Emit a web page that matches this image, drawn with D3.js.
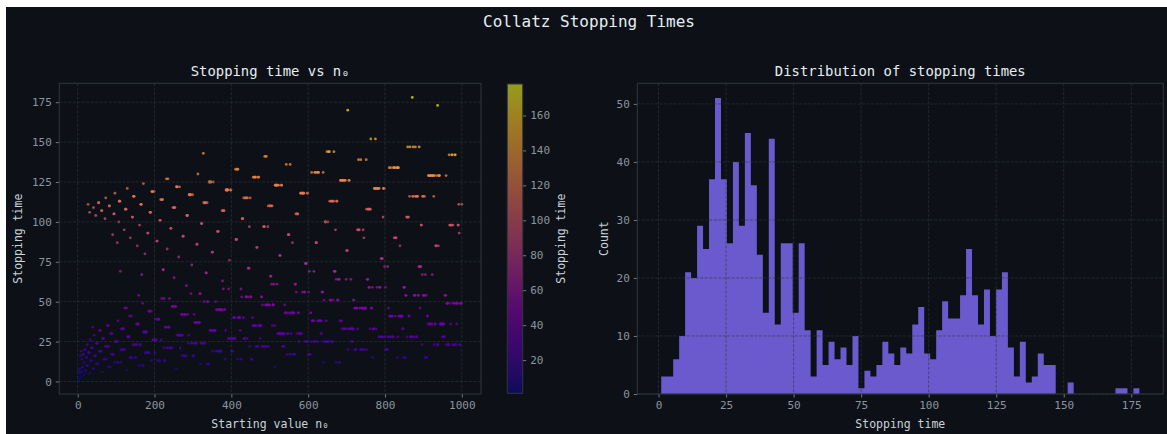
<!DOCTYPE html>
<html>
<head>
<meta charset="utf-8">
<script src="https://cdn.jsdelivr.net/npm/d3@7"></script>
<style>
  html, body { margin: 0; padding: 0; background: #ffffff; }
  svg { display: block; }
  text { font-family: "DejaVu Sans Mono", monospace; }
</style>
</head>
<body>
<svg id="chart" width="1167" height="434"></svg>
<script>
// ---- data -------------------------------------------------------------
// Starting values n0 = 2 … 1000 and their total Collatz stopping times
// (number of 3n+1 / n/2 steps needed to reach 1).
const startValues = d3.range(2, 1001);
function collatzSteps(n) {
  let steps = 0;
  while (n !== 1) { n = (n % 2 === 0) ? n / 2 : 3 * n + 1; steps++; }
  return steps;
}
const stoppingTimes = startValues.map(collatzSteps);

const scatterXTicks = [0, 200, 400, 600, 800, 1000];
const scatterYTicks = [0, 25, 50, 75, 100, 125, 150, 175];
const colorbarTicks = [20, 40, 60, 80, 100, 120, 140, 160];
const histXTicks = [0, 25, 50, 75, 100, 125, 150, 175];
const histYTicks = [0, 10, 20, 30, 40, 50];
const histBinCount = 80;

// ---- styling ----------------------------------------------------------
const BG = "#0d1117";
const SPINE = "#30363d";
const TICK_TEXT = "#8b949e";
const LABEL_TEXT = "#c9d1d9";
const TITLE_TEXT = "#e6edf3";
const BAR = "#6a5acd";

const svg = d3.select("#chart");
svg.append("rect").attr("x", 6).attr("y", 7).attr("width", 1161).attr("height", 427).attr("fill", BG);

svg.append("text").attr("x", 589).attr("y", 27).attr("text-anchor", "middle")
  .attr("fill", TITLE_TEXT).attr("font-size", 16).text("Collatz Stopping Times");

const tMin = d3.min(stoppingTimes), tMax = d3.max(stoppingTimes);
const pad = (a, b) => [a - (b - a) * 0.05, b + (b - a) * 0.05];

function drawGrid(g, x, y, xt, yt, box) {
  const grid = g.append("g").attr("stroke", SPINE).attr("stroke-opacity", 0.75)
    .attr("stroke-width", 0.8).attr("stroke-dasharray", "3,1.5");
  xt.forEach(v => grid.append("line").attr("x1", x(v)).attr("x2", x(v)).attr("y1", box.top).attr("y2", box.bottom));
  yt.forEach(v => grid.append("line").attr("x1", box.left).attr("x2", box.right).attr("y1", y(v)).attr("y2", y(v)));
}

function drawAxes(g, x, y, xt, yt, box) {
  const xa = g.append("g").attr("transform", `translate(0,${box.bottom})`)
    .call(d3.axisBottom(x).tickValues(xt).tickSize(3.5).tickPadding(4).tickFormat(d3.format("d")));
  const ya = g.append("g").attr("transform", `translate(${box.left},0)`)
    .call(d3.axisLeft(y).tickValues(yt).tickSize(3.5).tickPadding(4).tickFormat(d3.format("d")));
  [xa, ya].forEach(a => {
    a.select(".domain").remove();
    a.selectAll(".tick line").attr("stroke", TICK_TEXT).attr("stroke-width", 0.8);
    a.selectAll(".tick text").attr("fill", TICK_TEXT).attr("font-size", 11)
      .attr("font-family", "DejaVu Sans Mono");
  });
  g.append("rect").attr("x", box.left).attr("y", box.top)
    .attr("width", box.right - box.left).attr("height", box.bottom - box.top)
    .attr("fill", "none").attr("stroke", SPINE).attr("stroke-width", 1);
}

// ---- left panel: scatter of stopping time vs n0 -------------------------
const L = { left: 59.3, right: 481, top: 83.3, bottom: 394 };
const xS = d3.scaleLinear().domain(pad(d3.min(startValues), d3.max(startValues))).range([L.left, L.right]);
const yS = d3.scaleLinear().domain(pad(tMin, tMax)).range([L.bottom, L.top]);
const color = d3.scaleSequential(d3.interpolatePlasma).domain([tMin, tMax]);

const gL = svg.append("g");
gL.append("g").selectAll("circle")
  .data(startValues.map((n, i) => ({ n, t: stoppingTimes[i] })))
  .join("circle")
  .attr("cx", d => xS(d.n)).attr("cy", d => yS(d.t)).attr("r", 1.4)
  .attr("fill", d => color(d.t)).attr("fill-opacity", 0.7);
drawGrid(gL, xS, yS, scatterXTicks, scatterYTicks, L);
drawAxes(gL, xS, yS, scatterXTicks, scatterYTicks, L);

gL.append("text").attr("x", (L.left + L.right) / 2).attr("y", 76).attr("text-anchor", "middle")
  .attr("fill", TITLE_TEXT).attr("font-size", 13.9).text("Stopping time vs n₀");
gL.append("text").attr("x", (L.left + L.right) / 2).attr("y", 428).attr("text-anchor", "middle")
  .attr("fill", LABEL_TEXT).attr("font-size", 11.5).text("Starting value n₀");
gL.append("text").attr("transform", `translate(22,${(L.top + L.bottom) / 2}) rotate(-90)`)
  .attr("text-anchor", "middle").attr("fill", LABEL_TEXT).attr("font-size", 11.5).text("Stopping time");

// ---- colorbar ---------------------------------------------------------
const CB = { left: 507.3, right: 522.7, top: 84, bottom: 393.3 };
const yC = d3.scaleLinear().domain([tMin, tMax]).range([CB.bottom, CB.top]);
const defs = svg.append("defs");
const grad = defs.append("linearGradient").attr("id", "plasmaGrad")
  .attr("x1", 0).attr("y1", 1).attr("x2", 0).attr("y2", 0);
d3.range(0, 1.0001, 0.05).forEach(f => grad.append("stop")
  .attr("offset", f).attr("stop-color", d3.interpolatePlasma(f)));
const gC = svg.append("g");
gC.append("rect").attr("x", CB.left).attr("y", CB.top)
  .attr("width", CB.right - CB.left).attr("height", CB.bottom - CB.top)
  .attr("fill", "url(#plasmaGrad)").attr("fill-opacity", 0.6);
const ca = gC.append("g").attr("transform", `translate(${CB.right},0)`)
  .call(d3.axisRight(yC).tickValues(colorbarTicks).tickSize(3.5).tickPadding(4).tickFormat(d3.format("d")));
ca.select(".domain").remove();
ca.selectAll(".tick line").attr("stroke", TICK_TEXT).attr("stroke-width", 0.8);
ca.selectAll(".tick text").attr("fill", TICK_TEXT).attr("font-size", 11).attr("font-family", "DejaVu Sans Mono");
gC.append("rect").attr("x", CB.left).attr("y", CB.top)
  .attr("width", CB.right - CB.left).attr("height", CB.bottom - CB.top)
  .attr("fill", "none").attr("stroke", SPINE).attr("stroke-width", 1);
gC.append("text").attr("transform", `translate(565,${(CB.top + CB.bottom) / 2}) rotate(-90)`)
  .attr("text-anchor", "middle").attr("fill", LABEL_TEXT).attr("font-size", 11.5).text("Stopping time");

// ---- right panel: histogram of stopping times ---------------------------
const R = { left: 637.3, right: 1163.3, top: 83.3, bottom: 394 };
const xH = d3.scaleLinear().domain(pad(tMin, tMax)).range([R.left, R.right]);
const binW = (tMax - tMin) / histBinCount;
const bins = d3.bin().domain([tMin, tMax])
  .thresholds(d3.range(1, histBinCount).map(k => tMin + k * binW))(stoppingTimes);
const yH = d3.scaleLinear().domain([0, d3.max(bins, b => b.length) * 1.05]).range([R.bottom, R.top]);

const gR = svg.append("g");
// the bins are filled as one stepped outline so adjacent bars merge cleanly
const stepPts = bins.map(b => ({ x: b.x0, c: b.length }));
stepPts.push({ x: bins[bins.length - 1].x1, c: bins[bins.length - 1].length });
gR.append("path").datum(stepPts)
  .attr("d", d3.area().curve(d3.curveStepAfter)
    .x(d => xH(d.x)).y0(yH(0)).y1(d => yH(d.c)))
  .attr("fill", BAR);
drawGrid(gR, xH, yH, histXTicks, histYTicks, R);
drawAxes(gR, xH, yH, histXTicks, histYTicks, R);

gR.append("text").attr("x", (R.left + R.right) / 2).attr("y", 76).attr("text-anchor", "middle")
  .attr("fill", TITLE_TEXT).attr("font-size", 13.9).text("Distribution of stopping times");
gR.append("text").attr("x", (R.left + R.right) / 2).attr("y", 428).attr("text-anchor", "middle")
  .attr("fill", LABEL_TEXT).attr("font-size", 11.5).text("Stopping time");
gR.append("text").attr("transform", `translate(608,${(R.top + R.bottom) / 2}) rotate(-90)`)
  .attr("text-anchor", "middle").attr("fill", LABEL_TEXT).attr("font-size", 11.5).text("Count");
</script>
</body>
</html>
